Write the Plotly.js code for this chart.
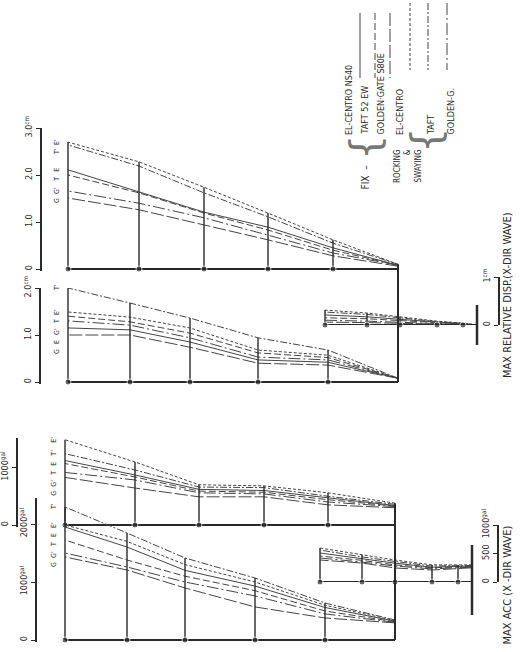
<!DOCTYPE html>
<html><head><meta charset="utf-8">
<script src="https://cdn.plot.ly/plotly-3.0.1.min.js"></script>
<style>html,body{margin:0;padding:0;background:#fff}#chart{width:520px;height:652px}</style>
</head><body><div id="chart"></div>
<script>
// ---------------- DATA ----------------
const SERIES = ['EL-CENTRO NS40','TAFT 52 EW','GOLDEN·GATE S80E','EL-CENTRO','TAFT','GOLDEN-G.'];
const SHORT  = ['E','T','G',"E'","T'","G'"];
// floor heights (ground -> top)
const hD1 = [0, 6.5, 13.0, 19.4, 25.9, 33.0];
const hD2 = [0, 7.0, 14.0, 20.8, 26.8, 33.0];
const hA1 = [0, 6.7, 13.1, 19.6, 26.0, 33.0];
const hA2 = [0, 7.0, 14.0, 21.0, 26.8, 33.0];
const hS  = [0, 1.4, 4.0, 7.7, 11.0, 15.2];
// max relative displacement, diagram 1 (cm)
const d1_E  = [0.08, 0.45, 0.89, 1.21, 1.64, 2.11];
const d1_T  = [0.08, 0.40, 0.83, 1.19, 1.62, 2.00];
const d1_G  = [0.06, 0.28, 0.62, 0.94, 1.26, 1.51];
const d1_Er = [0.10, 0.62, 1.19, 1.74, 2.28, 2.70];
const d1_Tr = [0.10, 0.55, 1.11, 1.62, 2.19, 2.64];
const d1_Gr = [0.08, 0.34, 0.72, 1.09, 1.40, 1.66];
// max relative displacement, diagram 2 (cm)
const d2_E  = [0.08, 0.42, 0.47, 0.85, 1.11, 1.15];
const d2_T  = [0.08, 0.52, 0.62, 1.04, 1.28, 1.40];
const d2_G  = [0.08, 0.36, 0.40, 0.74, 1.00, 1.00];
const d2_Er = [0.08, 0.57, 0.68, 1.15, 1.38, 1.49];
const d2_Tr = [0.08, 0.68, 0.94, 1.36, 1.68, 2.00];
const d2_Gr = [0.08, 0.47, 0.53, 0.94, 1.21, 1.30];
// max acceleration, diagram 1 (gal)
const a1_E  = [340, 470, 600, 620, 870, 1121];
const a1_T  = [330, 440, 570, 590, 835, 1069];
const a1_G  = [300, 350, 490, 490, 643, 828];
const a1_Er = [380, 560, 680, 700, 1096, 1483];
const a1_Tr = [360, 500, 650, 660, 957, 1241];
const a1_Gr = [320, 400, 540, 560, 783, 914];
// max acceleration, diagram 2 (gal)
const a2_E  = [325, 560, 930, 1200, 1603, 1948];
const a2_T  = [315, 500, 850, 1100, 1379, 1724];
const a2_G  = [295, 380, 570, 897, 1207, 1431];
const a2_Er = [335, 600, 1000, 1300, 1700, 1983];
const a2_Tr = [345, 638, 1069, 1414, 1845, 2293];
const a2_Gr = [305, 450, 760, 1000, 1259, 1500];
// small diagram, displacement (cm)
const s1_E  = [0, 0.03, 0.06, 0.12, 0.17, 0.21];
const s1_T  = [0, 0.025, 0.05, 0.09, 0.13, 0.15];
const s1_G  = [0, 0.015, 0.02, 0.04, 0.05, 0.06];
const s1_Er = [0, 0.04, 0.08, 0.17, 0.25, 0.31];
const s1_Tr = [0, 0.035, 0.07, 0.15, 0.22, 0.27];
const s1_Gr = [0, 0.02, 0.03, 0.06, 0.08, 0.10];
// small diagram, acceleration (gal)
const s2_E  = [280, 270, 260, 330, 410, 509];
const s2_T  = [270, 260, 250, 300, 380, 456];
const s2_G  = [250, 240, 210, 246, 333, 386];
const s2_Er = [300, 300, 300, 386, 474, 596];
const s2_Tr = [290, 290, 280, 360, 440, 561];
const s2_Gr = [260, 250, 230, 280, 350, 421];

// ---------------- STYLE / LAYOUT ----------------
const W = 520, H = 652;
const FONT = 'Liberation Sans Narrow, DejaVu Sans Condensed, Liberation Sans, sans-serif';
const INK = '#2a2a2a';
const DASH = ['solid', '7px,3px', '13px,3px', '3px,2px', '7px,2px,2px,2px', '12px,3px,2px,3px'];
const px = v => v / W;             // pixel -> paper x
const py = v => 1 - v / H;         // pixel -> paper y

const traces = [];
function panel(h, series, xa, ya, dotsBase) {
  series.forEach((v, i) => traces.push({
    type: 'scatter', mode: 'lines', x: h, y: v, xaxis: xa, yaxis: ya,
    line: {color: '#454545', width: 1, dash: DASH[i]}, hoverinfo: 'skip', showlegend: false
  }));
  const vx = [], vy = [];
  h.forEach((hh, k) => {
    if (k === 0) return;
    const m = Math.max(...series.map(v => v[k]));
    vx.push(hh, hh, null); vy.push(0, m, null);
  });
  traces.push({type: 'scatter', mode: 'lines', x: vx, y: vy, xaxis: xa, yaxis: ya,
    line: {color: INK, width: 1.4}, hoverinfo: 'skip', showlegend: false});
  traces.push({type: 'scatter', mode: 'lines+markers', x: h, y: h.map(() => 0), xaxis: xa, yaxis: ya,
    line: {color: INK, width: 2.2}, cliponaxis: false,
    marker: {color: INK, size: h.map((_, k) => (k === 0 && !dotsBase) ? 0 : 6)},
    hoverinfo: 'skip', showlegend: false});
}
const D1 = [d1_E, d1_T, d1_G, d1_Er, d1_Tr, d1_Gr];
const D2 = [d2_E, d2_T, d2_G, d2_Er, d2_Tr, d2_Gr];
const A1 = [a1_E, a1_T, a1_G, a1_Er, a1_Tr, a1_Gr];
const A2 = [a2_E, a2_T, a2_G, a2_Er, a2_Tr, a2_Gr];
const S1 = [s1_E, s1_T, s1_G, s1_Er, s1_Tr, s1_Gr];
const S2 = [s2_E, s2_T, s2_G, s2_Er, s2_Tr, s2_Gr];
panel(hD1, D1, 'x', 'y');
panel(hD2, D2, 'x', 'y2');
panel(hA1, A1, 'x2', 'y3');
panel(hA2, A2, 'x2', 'y4');
panel(hS, S1, 'x3', 'y5');
panel(hS, S2, 'x4', 'y6');

function yax(p0, pPerUnit, lo, hi, axisX, tickvals, ticktext, side) {
  const top = p0 - hi * pPerUnit, bot = p0 - lo * pPerUnit;
  return {domain: [py(bot), py(top)], range: [lo, hi], anchor: 'free', position: px(axisX), side: side || 'left',
    showline: true, linecolor: INK, linewidth: 1.6, ticks: 'outside', ticklen: 4, tickcolor: INK,
    tickvals: tickvals, ticktext: ticktext, tickangle: -90, showgrid: false, zeroline: false,
    tickfont: {family: FONT, size: 9, color: INK}, fixedrange: true};
}
function xax(basePx) {   // heights increase to the left, 10 px per unit
  return {domain: [0, 1], range: [basePx / 10, (basePx - W) / 10], visible: false, fixedrange: true};
}
const yD1 = yax(269, 47, -0.05, 3.0, 40, [0, 1, 2, 3], ['0', '1.0', '2.0', '3.0<sup>cm</sup>']);
const yD2 = yax(382, 47, -0.05, 2.0, 39, [0, 1, 2], ['0', '1.0', '2.0<sup>cm</sup>']);
const yA1 = yax(525, 0.0575, -30, 1510, 16, [0, 1000], ['0', '1000<sup>gal</sup>']);
const yA2 = yax(640, 0.058, -30, 2450, 35, [0, 1000, 2000], ['0', '1000<sup>gal</sup>', '2000<sup>gal</sup>']);
const yS1 = yax(325, 48, 0, 1.0, 498, [0, 1], ['0', '1<sup>cm</sup>']);
const yS2 = yax(582, 0.057, 0, 1000, 497, [0, 500, 1000], ['0', '500', '1000<sup>gal</sup>']);

function toPaper(ax, v) {
  const f = (v - ax.range[0]) / (ax.range[1] - ax.range[0]);
  return ax.domain[0] + f * (ax.domain[1] - ax.domain[0]);
}
const shapes = [];
const baseMax = arr => Math.max(...arr.map(v => v[0]));
shapes.push({type: 'line', xref: 'x', yref: 'paper', x0: 0, x1: 0,
  y0: toPaper(yD2, 0), y1: toPaper(yD1, baseMax(D1)), line: {color: INK, width: 2}});
shapes.push({type: 'line', xref: 'x2', yref: 'paper', x0: 0, x1: 0,
  y0: toPaper(yA2, 0), y1: toPaper(yA1, baseMax(A1)), line: {color: INK, width: 2}});
shapes.push({type: 'line', xref: 'x3', yref: 'paper', x0: 0, x1: 0, y0: py(345), y1: py(305), line: {color: INK, width: 2.5}});
shapes.push({type: 'line', xref: 'x4', yref: 'paper', x0: 0, x1: 0, y0: py(615), y1: py(545), line: {color: INK, width: 2.5}});

// legend (rotated, as in the drawing)
const legX   = [360, 375, 390, 410, 428, 447];
const legTop = [13, 13, 13, 3, 3, 3], legBot = [78, 78, 78, 70, 70, 70];
const nameX  = [349, 364, 380, 400, 431, 450];
const annotations = [];
const txt = (text, x, y, size, xa, ya, extra) => annotations.push(Object.assign({
  text: text, xref: 'paper', yref: 'paper', x: px(x), y: py(y), xanchor: xa || 'center', yanchor: ya || 'bottom',
  textangle: -90, showarrow: false, font: {family: FONT, size: size, color: INK}}, extra || {}));
SERIES.forEach((s, i) => {
  shapes.push({type: 'line', xref: 'paper', yref: 'paper', x0: px(legX[i]), x1: px(legX[i]),
    y0: py(legTop[i]), y1: py(legBot[i]), line: {color: '#454545', width: 1, dash: DASH[i]}});
  txt(s, nameX[i], 137, 9);
});
const brace = {font: {family: 'Liberation Sans Narrow, DejaVu Sans', size: 40, color: '#777'}};
txt('{', 365, 148, 40, 'center', 'middle', brace);
txt('FIX  –', 365, 163, 10, 'center', 'top');
txt('{', 426, 141, 40, 'center', 'middle', brace);
txt('ROCKING<br>&amp;<br>SWAYING', 408, 147, 8, 'center', 'top', {align: 'right'});
txt('MAX RELATIVE DISP.(X-DIR WAVE)', 507, 380, 11);
txt('MAX ACC (X -DIR WAVE)', 507, 647, 11);

function topLabels(series, xaxis, yaxis, hTop) {
  const base = xaxis === 'x' ? 398 : 395;
  const items = series.map((v, i) => ({i, p: toPaper(yaxis, v[v.length - 1])}));
  items.sort((a, b) => b.p - a.p);
  let last = 9;
  items.forEach(it => {
    let yy = it.p;
    if (last - yy < 10 / H) yy = last - 10 / H;
    last = yy;
    annotations.push({text: SHORT[it.i], xref: 'paper', yref: 'paper', x: px(base - hTop * 10 - 5), y: yy,
      xanchor: 'right', yanchor: 'middle', textangle: -90, showarrow: false,
      font: {family: FONT, size: 7, color: INK}});
  });
}
topLabels(D1, 'x', yD1, 33);
topLabels(D2, 'x', yD2, 33);
topLabels(A1, 'x2', yA1, 33);
topLabels(A2, 'x2', yA2, 33);

const layout = {
  width: W, height: H, margin: {l: 0, r: 0, t: 0, b: 0}, paper_bgcolor: '#fff', plot_bgcolor: 'rgba(0,0,0,0)',
  showlegend: false, font: {family: FONT, color: INK},
  xaxis: xax(398), xaxis2: xax(395), xaxis3: xax(477), xaxis4: xax(472),
  yaxis: yD1, yaxis2: yD2, yaxis3: yA1, yaxis4: yA2, yaxis5: yS1, yaxis6: yS2,
  shapes: shapes, annotations: annotations
};
Plotly.newPlot('chart', traces, layout, {staticPlot: true, displayModeBar: false});
</script></body></html>
